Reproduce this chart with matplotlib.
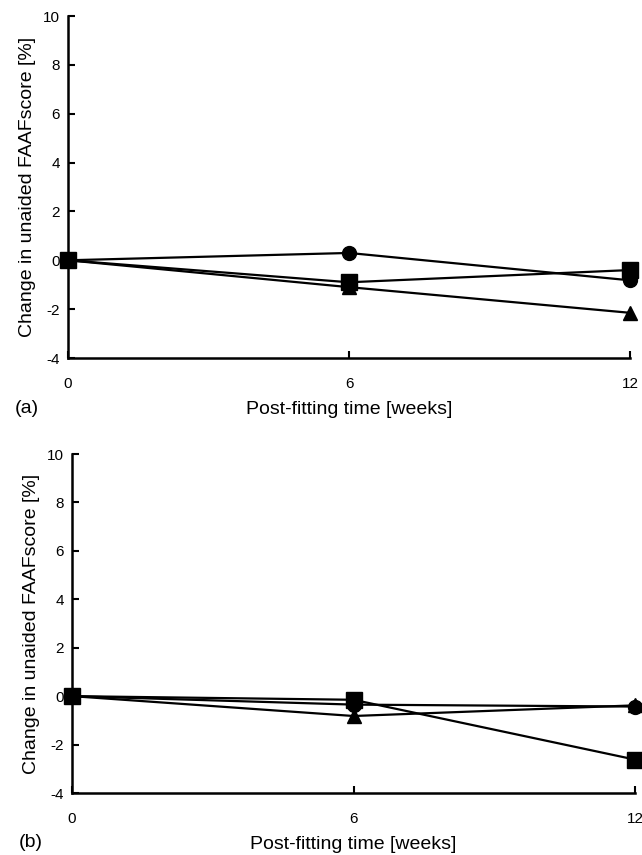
import matplotlib.pyplot as plt

weeks = [0, 6, 12]

# panel (a)
a_circle = [0.0, 0.3, -0.82]
a_triangle = [0.0, -1.1, -2.15]
a_square = [0.0, -0.9, -0.4]

# panel (b)
b_circle = [0.0, -0.35, -0.43]
b_triangle = [0.0, -0.82, -0.38]
b_square = [0.0, -0.15, -2.62]

y_ticks = [-4, -2, 0, 2, 4, 6, 8, 10]
x_ticks = [0, 6, 12]

plt.rcParams['font.family'] = ['Liberation Sans', 'DejaVu Sans']
plt.rcParams['axes.unicode_minus'] = False


def draw_panel(ax, circle, triangle, square, letter):
    style = dict(color='black', linewidth=1.6, clip_on=False)
    ax.plot(weeks, circle, marker='o', markersize=10, **style)
    ax.plot(weeks, triangle, marker='^', markersize=10, **style)
    ax.plot(weeks, square, marker='s', markersize=11, **style)
    ax.set_xlim(0, 12)
    ax.set_ylim(-4, 10)
    ax.set_xticks(x_ticks)
    ax.set_yticks(y_ticks)
    ax.spines['top'].set_visible(False)
    ax.spines['right'].set_visible(False)
    ax.spines['left'].set_linewidth(1.8)
    ax.spines['bottom'].set_linewidth(1.8)
    ax.tick_params(axis='both', direction='in', length=5, width=1.5, labelsize=11)
    ax.tick_params(axis='x', pad=14)
    ax.tick_params(axis='y', pad=6)
    ax.set_ylabel('Change in unaided FAAFscore [%]', fontsize=14, labelpad=5)
    ax.set_xlabel('Post-fitting time [weeks]', fontsize=14, labelpad=7)
    ax.text(-0.095, -0.16, letter, transform=ax.transAxes, fontsize=14)


fig = plt.figure(figsize=(6.42, 8.55), dpi=100)
ax_a = fig.add_axes([68 / 642, 1 - 358 / 855, 562 / 642, 342 / 855])
ax_b = fig.add_axes([72 / 642, 1 - 793 / 855, 563 / 642, 339 / 855])
draw_panel(ax_a, a_circle, a_triangle, a_square, '(a)')
draw_panel(ax_b, b_circle, b_triangle, b_square, '(b)')

fig.savefig('out.png', dpi=100)
